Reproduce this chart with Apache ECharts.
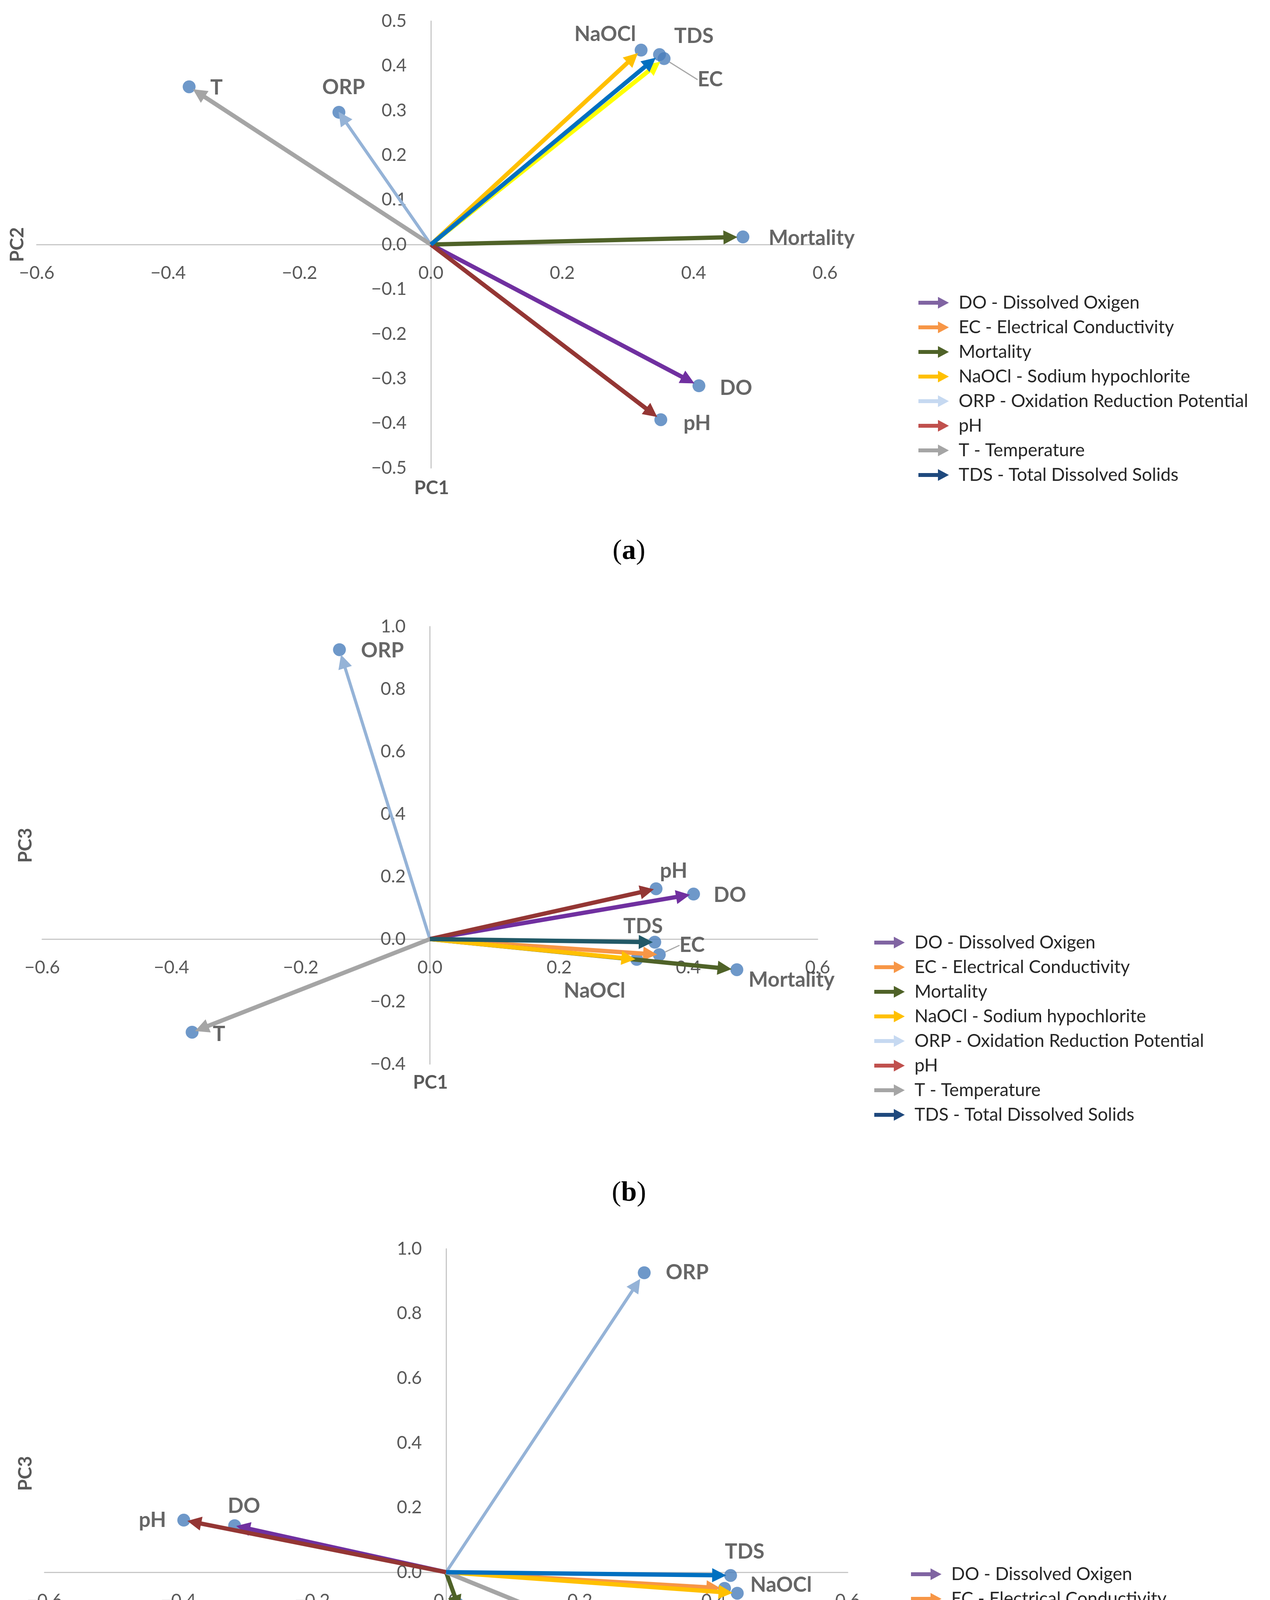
<!DOCTYPE html>
<html>
<head>
<meta charset="utf-8">
<script src="https://cdn.jsdelivr.net/npm/echarts@6/dist/echarts.min.js"></script>
<style>
  html, body { margin: 0; padding: 0; background: #fff; }
  #main { width: 3251px; height: 4748px; }
</style>
</head>
<body>
<div id="main"></div>
<script>
// variables, in legend order
var names = ['DO', 'EC', 'Mortality', 'NaOCl', 'ORP', 'pH', 'T', 'TDS'];
var legendNames = [
  'DO - Dissolved Oxigen',
  'EC - Electrical Conductivity',
  'Mortality',
  'NaOCl - Sodium hypochlorite',
  'ORP - Oxidation Reduction Potential',
  'pH',
  'T - Temperature',
  'TDS - Total Dissolved Solids'
];
// loadings
var pc1 = [0.408, 0.355, 0.475, 0.320, -0.140, 0.350, -0.368, 0.348];
var pc2 = [-0.316, 0.416, 0.017, 0.435, 0.296, -0.392, 0.353, 0.425];
var pc3 = [0.144, -0.050, -0.098, -0.065, 0.926, 0.161, -0.298, -0.010];

// axis ranges [min, max, interval]
var pc1Axis = [-0.6, 0.6, 0.2];
var pc2AxisX = [-0.6, 0.6, 0.2];
var pc2AxisY = [-0.5, 0.5, 0.1];
var pc3Axis = [-0.4, 1.0, 0.2];

var subLabels = ['a', 'b', 'c'];

// colours
var legendColors = ['#8064A2', '#F79646', '#4F6228', '#FFC000', '#C6D9F1', '#C0504D', '#A5A5A5', '#1F497D'];
var arrowColorsA = ['#7030A0', '#FFFF00', '#4F6228', '#FFC000', '#95B3D7', '#943634', '#A5A5A5', '#0070C0'];
var arrowColorsB = ['#7030A0', '#F79646', '#4F6228', '#FFC000', '#95B3D7', '#943634', '#A5A5A5', '#215967'];
var arrowColorsC = ['#7030A0', '#F79646', '#4F6228', '#FFC000', '#95B3D7', '#943634', '#A5A5A5', '#0070C0'];

// per-panel label offsets (px from dot centre); third item = leader line
var labelsA = {
  DO: [95, 6], EC: [118, 54, 1], Mortality: [176, 3], NaOCl: [-92, -40],
  ORP: [12, -63], pH: [93, 9], T: [70, 3], TDS: [88, -47]
};
var labelsB = {
  DO: [93, 3], EC: [84, -24, 1], Mortality: [140, 27], NaOCl: [-108, 81],
  ORP: [110, 3], pH: [45, -45], T: [69, 6], TDS: [-30, -40]
};
var labelsC = {
  DO: [24, -50], EC: [60, 78], Mortality: [84, 69], NaOCl: [112, -21],
  ORP: [110, 0], pH: [-80, 0], T: [72, 6], TDS: [36, -60]
};

var panels = [
  { x: pc1, y: pc2, xr: pc1Axis, yr: pc2AxisY, xName: 'PC1', yName: 'PC2',
    grid: { left: 94, top: 54, width: 2018, height: 1144 },
    colors: arrowColorsA, labels: labelsA,
    legend: { left: 2346, top: 745 }, yTitle: [45, 626], xTitle: [1105, 1250], sub: 1412 },
  { x: pc1, y: pc3, xr: pc1Axis, yr: pc3Axis, xName: 'PC1', yName: 'PC3',
    grid: { left: 108, top: 1604, width: 1985, height: 1120 },
    colors: arrowColorsB, labels: labelsB,
    legend: { left: 2233, top: 2383 }, yTitle: [66, 2164], xTitle: [1102, 2772], sub: 3055 },
  { x: pc2, y: pc3, xr: pc2AxisX, yr: pc3Axis, xName: 'PC2', yName: 'PC3',
    grid: { left: 114, top: 3197, width: 2056, height: 1159 },
    colors: arrowColorsC, labels: labelsC,
    legend: { left: 2327, top: 4000 }, yTitle: [66, 3772], xTitle: [1147, 4410], sub: 4645 }
];

var arrowIcon = 'path://M0,12 L50,12 L50,2 L78,17 L50,32 L50,22 L0,22 Z';
var font = 'Lato, "Liberation Sans", sans-serif';
var tickFmt = function (v) { return v.toFixed(1).replace('-', '\u2212'); };

var option = { backgroundColor: '#fff', animation: false,
  grid: [], xAxis: [], yAxis: [], series: [], legend: [], graphic: [] };

panels.forEach(function (p, pi) {
  var g = p.grid;
  option.grid.push({ left: g.left, top: g.top, width: g.width, height: g.height, outerBoundsMode: 'none', containLabel: false });
  var axisLine = { onZero: false, lineStyle: { color: '#C8C8C8', width: 3 } };
  // put each axis, labels included, on the zero of the other one
  var xOff = -g.height * (0 - p.yr[0]) / (p.yr[1] - p.yr[0]);
  var yOff = -g.width * (0 - p.xr[0]) / (p.xr[1] - p.xr[0]);
  option.xAxis.push({
    type: 'value', gridIndex: pi, min: p.xr[0], max: p.xr[1], interval: p.xr[2],
    position: 'bottom', offset: xOff,
    axisLine: axisLine, axisTick: { show: false }, splitLine: { show: false },
    axisLabel: { margin: 50, fontSize: 46, color: '#595959', fontFamily: font, formatter: tickFmt }
  });
  option.yAxis.push({
    type: 'value', gridIndex: pi, min: p.yr[0], max: p.yr[1], interval: p.yr[2],
    position: 'left', offset: yOff,
    axisLine: axisLine, axisTick: { show: false }, splitLine: { show: false },
    axisLabel: { margin: 62, fontSize: 46, color: '#595959', fontFamily: font, formatter: tickFmt }
  });

  // dots with labels
  option.series.push({
    type: 'scatter', xAxisIndex: pi, yAxisIndex: pi, z: 2,
    symbolSize: 33, itemStyle: { color: '#4A7EBB' },
    data: names.map(function (n, i) {
      var l = p.labels[n];
      return {
        value: [p.x[i], p.y[i]], name: n,
        labelLine: { show: !!l[2], lineStyle: { color: '#A6A6A6', width: 3 } }
      };
    }),
    label: {
      show: true, position: 'inside', formatter: '{b}',
      fontSize: 53, fontWeight: 'bold', color: '#404040', fontFamily: font
    },
    labelLayout: function (params) {
      var l = p.labels[names[params.dataIndex]];
      return { dx: l[0], dy: l[1] };
    }
  });

  // arrows from the origin to each loading
  names.forEach(function (n, i) {
    var k = 0.96;
    option.series.push({
      type: 'lines', name: legendNames[i], coordinateSystem: 'cartesian2d',
      xAxisIndex: pi, yAxisIndex: pi, z: 3,
      symbol: ['none', 'triangle'], symbolSize: 36,
      lineStyle: { color: p.colors[i], width: n === 'ORP' ? 8 : 11, opacity: 1, curveness: 0 },
      data: [{ coords: [[0, 0], [p.x[i] * k, p.y[i] * k]] }]
    });
  });

  option.legend.push({
    orient: 'vertical', left: p.legend.left, top: p.legend.top,
    itemWidth: 78, itemHeight: 34, itemGap: 13, selectedMode: false,
    textStyle: { fontSize: 46, color: '#262626', fontFamily: font, lineHeight: 50, padding: [0, 0, 0, 20] },
    data: legendNames.map(function (n, i) {
      return { name: n, icon: arrowIcon,
        itemStyle: { color: legendColors[i], borderColor: legendColors[i], borderWidth: 0 } };
    })
  });

  option.graphic.push({
    type: 'text', x: p.yTitle[0], y: p.yTitle[1], rotation: Math.PI / 2,
    style: { text: p.yName, font: 'bold 48px ' + font, fill: '#595959', align: 'center', verticalAlign: 'middle' }
  });
  option.graphic.push({
    type: 'text', x: p.xTitle[0], y: p.xTitle[1],
    style: { text: p.xName, font: 'bold 48px ' + font, fill: '#595959', align: 'center', verticalAlign: 'middle' }
  });
  option.graphic.push({
    type: 'text', x: 1610, y: p.sub,
    style: {
      text: '({s|' + subLabels[pi] + '})',
      rich: { s: { fontWeight: 'bold', fontSize: 72, fontFamily: '"Liberation Serif", serif', fill: '#000' } },
      fontSize: 72, fontFamily: '"Liberation Serif", serif', fill: '#000', align: 'center', verticalAlign: 'middle'
    }
  });
});

var chart = echarts.init(document.getElementById('main'));
chart.setOption(option);
</script>
</body>
</html>
